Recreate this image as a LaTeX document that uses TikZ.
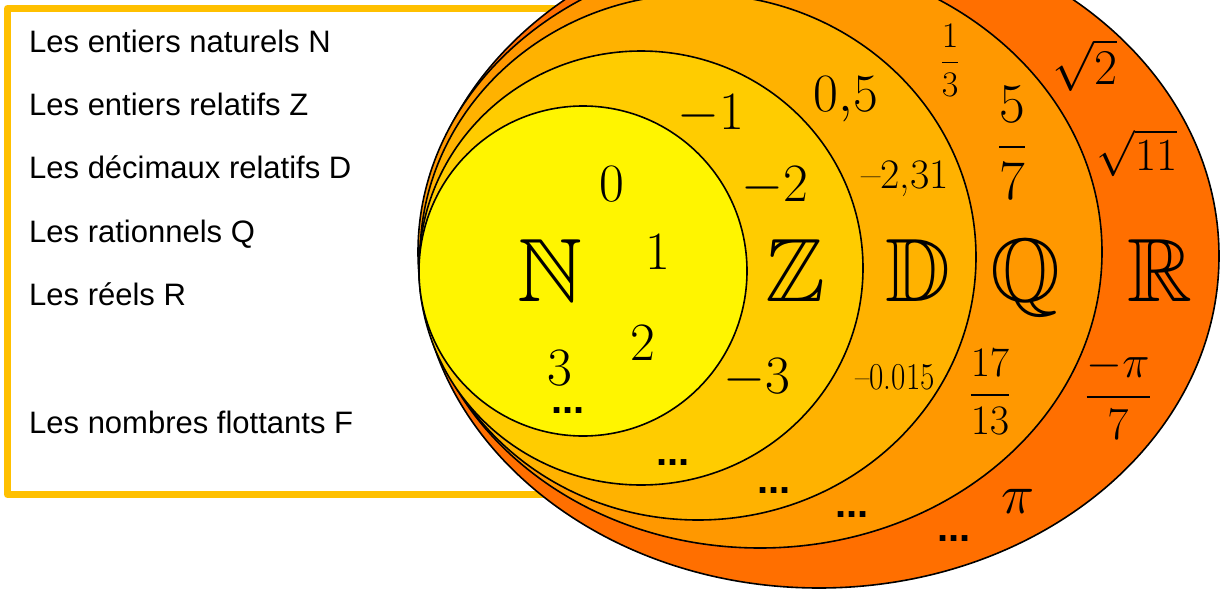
\RequirePackage{fix-cm}
\documentclass[tikz,border=0pt]{standalone}
\usepackage{amsmath,amssymb}
\usepackage{fontspec}
\setsansfont{Liberation Sans}
\definecolor{frameyellow}{HTML}{FFC000}
\definecolor{colN}{HTML}{FFF500}
\definecolor{colZ}{HTML}{FFCC00}
\definecolor{colD}{HTML}{FFB200}
\definecolor{colQ}{HTML}{FF9800}
\definecolor{colR}{HTML}{FF6F00}
\begin{document}
\begin{tikzpicture}[x=1pt, y=-1pt, line join=round, line cap=round,
	lbl/.style={font=\sffamily\fontsize{31}{36}\selectfont, anchor=base west, inner sep=0pt},
	setname/.style={font=\fontsize{90}{96}\selectfont, anchor=base, inner sep=0pt},
	elt/.style={font=\fontsize{54}{60}\selectfont, anchor=base, inner sep=0pt},
	frac/.style={inner sep=0pt},
	dots/.style={font=\sffamily\bfseries\fontsize{40}{44}\selectfont, anchor=base, inner sep=0pt}]
	\clip (0,0) rectangle (1223,589);
	\draw[line width=7pt, frameyellow] (7.5,8.5) rectangle (620,494.5);
	\foreach \s/\cx/\cy/\rx/\ry in {R/819/256/400/332, Q/760/252/342/296, D/698/257/278/263, Z/641/268/222/217, N/583/271/164/165}
	\draw[line width=1.6pt, fill=col\s] (\cx,\cy) ellipse[x radius=\rx pt, y radius=\ry pt];
	\foreach \n/\y/\t in {lN/52/{Les entiers naturels N}, lZ/115/{Les entiers relatifs Z}, lD/178/{Les décimaux relatifs D}, lQ/242/{Les rationnels Q}, lR/305/{Les réels R}, lF/433/{Les nombres flottants F}}
	\node[lbl] (\n) at (29,\y) {\t};
	\foreach \s/\x in {N/550, Z/795, D/918, Q/1025, R/1160}
	\node[setname] (set\s) at (\x,301) {$\mathbb{\s}$};
	\foreach \n/\x/\y/\t in {zero/612/201/0, one/658/269/1, two/643/360/2, three/560/385/3, mone/711/129/-1, mtwo/775/201/-2, mthree/757/393/-3, half/846/111/{0{,}5}}
	\node[elt] (\n) at (\x,\y) {$\t$};
	\node[elt, font=\fontsize{42}{46}\selectfont] (dec) at (905,188) {–2,31};
	\node[elt, font=\fontsize{38}{42}\selectfont] (dectwo) at (895,389) {\scalebox{0.82}[1]{–0.015}};
	\node[frac, font=\fontsize{36}{40}\selectfont] (third) at (950,60) {$\dfrac{1}{3}$};
	\node[frac, font=\fontsize{56}{60}\selectfont] (fivesev) at (1012,143) {$\dfrac{5}{7}$};
	\node[frac, font=\fontsize{42}{46}\selectfont] (seventeen) at (990,392) {$\dfrac{17}{13}$};
	\node[frac, font=\fontsize{46}{50}\selectfont] (mpi) at (1118,395) {$\dfrac{-\pi}{7}$};
	\node[frac, font=\fontsize{50}{54}\selectfont] (rtwo) at (1085,65) {$\sqrt{2}$};
	\node[frac, font=\fontsize{46}{50}\selectfont] (releven) at (1137,153) {$\sqrt{11}$};
	\node[elt, font=\fontsize{56}{60}\selectfont] (pi) at (1018,513) {$\pi$};
	\foreach \n/\x/\y in {dN/568/413, dZ/673/465, dD/774/493, dQ/852/517, dR/954/541}
	\node[dots] (\n) at (\x,\y) {...};
\end{tikzpicture}
\end{document}
